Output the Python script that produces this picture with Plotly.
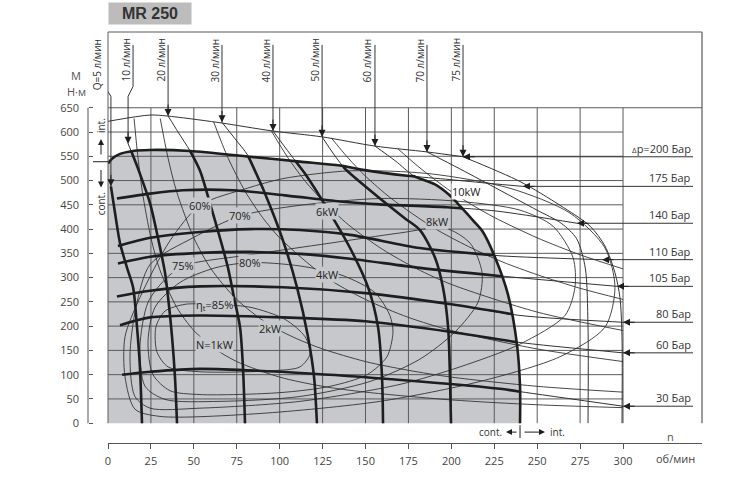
import plotly.graph_objects as go

# ---------------- axes ----------------
speed_ticks = [0, 25, 50, 75, 100, 125, 150, 175, 200, 225, 250, 275, 300]
torque_ticks = [0, 50, 100, 150, 200, 250, 300, 350, 400, 450, 500, 550, 600, 650]

# ---------------- pressure lines (n об/мин, M Н·м) ----------------
p200_n = [0, 24.5, 34.4, 63.5, 96.1, 124.7, 155.5, 185.8, 206.8]
p200_m = [622, 635, 633, 620, 602, 590, 571, 559, 549]
p175_n = [0, 2.3, 7.0, 14.6, 24.5, 47.8, 82.7, 111.8, 135.1, 148.5, 174.2, 199.2, 222.5, 241.7]
p175_m = [535, 545, 555, 561, 563, 561, 549, 539, 531, 522, 510, 502, 494, 488]
p140_n = [5.2, 24.5, 43.7, 72.8, 104.3, 135.1, 158.4, 197.5, 226.6, 273.2]
p140_m = [463, 473, 480, 480, 469, 457, 451, 445, 437, 412]
p110_n = [5.8, 24.5, 53.6, 82.7, 111.8, 141.0, 181.7, 228.3, 287.8]
p110_m = [365, 382, 394, 400, 398, 388, 361, 345, 337]
p105_n = [5.8, 24.5, 53.6, 82.7, 111.8, 141.0, 181.7, 226.6, 296.5]
p105_m = [329, 343, 351, 353, 349, 339, 320, 304, 282]
p80_n = [5.2, 24.5, 53.6, 101.9, 150.0, 200.0, 240.0, 300.0]
p80_m = [261, 273, 282, 280, 268, 245, 222, 208]
p60_n = [7.0, 24.5, 53.6, 101.9, 150.0, 200.0, 238.2, 300.0]
p60_m = [202, 218, 222, 218, 210, 188, 167, 145]
p30_n = [8.2, 24.5, 53.6, 119.4, 181.7, 228.3, 240.0, 300.0]
p30_m = [100, 106, 112, 102, 86, 71, 65, 35]
pressure_labels = ["<span style='font-size:8px'>Δ</span>p=200 Бар", "175 Бар", "140 Бар",
                   "110 Бар", "105 Бар", "80 Бар", "60 Бар", "30 Бар"]

# ---------------- flow lines ----------------
q5_n = [1.7, 4.1, 7.0, 11.1, 14.6, 16.9, 18.6, 19.8]
q5_m = [488, 433, 371, 320, 280, 198, 116, 0]
q10_n = [11.7, 14.6, 18.6, 24.5, 29.1, 33.2, 35.0, 37.3, 39.0, 40.2]
q10_m = [576, 551, 514, 453, 382, 310, 259, 178, 96, 0]
q20_n = [35.0, 40.8, 47.8, 53.6, 59.4, 65.2, 69.9, 73.4, 76.9, 78.6, 79.8]
q20_m = [633, 600, 561, 520, 453, 382, 320, 259, 198, 116, 0]
q30_n = [66.4, 74.0, 81.6, 91.5, 101.4, 110.1, 116.5, 120.0, 121.7]
q30_m = [620, 586, 551, 473, 382, 280, 178, 96, 0]
q40_n = [96.1, 106.0, 114.8, 129.3, 141.0, 151.5, 157.3, 159.6, 160.2]
q40_m = [602, 555, 514, 433, 361, 280, 198, 96, 0]
q50_n = [124.7, 138.1, 158.4, 173.0, 181.7, 190.5, 195.1, 198.1, 199.2, 199.8]
q50_m = [590, 524, 463, 422, 398, 341, 280, 198, 96, 0]
q60_n = [155.5, 167.2, 178.8, 190.5, 199.2, 206.2, 212.6, 218.4, 226.0, 233.0, 238.2, 240.0, 240.0]
q60_m = [571, 541, 508, 492, 469, 443, 418, 394, 337, 265, 163, 76, 0]
q70_n = [185.8, 205.0, 228.3, 249.9, 264.0, 273.0, 278.0, 279.6, 279.6]
q70_m = [559, 524, 480, 439, 412, 380, 320, 200, 0]
q75_n = [206.8, 240.0, 263.3, 280.8, 289.5, 295.3, 298.2, 299.4, 299.4]
q75_m = [549, 498, 449, 406, 365, 310, 259, 178, 0]
flow_labels = ["Q=5 л/мин", "10 л/мин", "20 л/мин", "30 л/мин", "40 л/мин",
               "50 л/мин", "60 л/мин", "70 л/мин", "75 л/мин"]
flow_label_n = [-1.8, 14.6, 35.0, 66.4, 96.1, 124.7, 155.5, 185.8, 206.8]

# ---------------- efficiency contours ----------------
e60_n = [53.6, 81.0, 101.9, 141.0, 187.6, 234.2, 269.1, 289.5, 295.3, 289.5, 263.3, 216.7, 158.4, 88.5, 30.3, 15.7, 9.9, 9.9, 18.6, 36.1, 53.6]
e60_m = [449, 484, 504, 520, 514, 484, 433, 361, 280, 198, 137, 86, 45, 20, 14, 29, 96, 178, 259, 376, 449]
e70_n = [76.9, 111.8, 158.4, 205.0, 240.0, 259.2, 270.9, 272.0, 266.2, 240.0, 205.0, 170.1, 111.8, 53.6, 24.5, 15.7, 12.8, 16.3, 24.5, 49.5, 76.9]
e70_m = [427, 449, 463, 457, 439, 406, 341, 280, 222, 163, 116, 80, 45, 31, 31, 55, 137, 239, 327, 382, 427]
e75_n = [43.7, 82.7, 129.3, 170.1, 196.3, 210.9, 217.9, 215.5, 202.1, 181.7, 152.6, 111.8, 65.2, 33.2, 21.6, 18.6, 23.3, 33.2, 43.7]
e75_m = [324, 347, 371, 392, 402, 371, 310, 249, 188, 132, 86, 55, 45, 49, 76, 157, 249, 296, 324]
e80_n = [82.7, 111.8, 136.9, 155.5, 164.2, 166.0, 162.5, 150.9, 129.3, 100.2, 53.6, 36.1, 26.2, 23.3, 27.4, 41.9, 62.3, 82.7]
e80_m = [331, 324, 304, 269, 222, 188, 137, 100, 76, 63, 59, 67, 100, 167, 239, 290, 320, 331]
e85_n = [59.4, 82.7, 103.1, 114.8, 117.7, 111.8, 94.4, 53.6, 35.0, 28.5, 27.9, 33.2, 44.9, 59.4]
e85_m = [245, 239, 214, 178, 143, 116, 108, 106, 116, 147, 198, 231, 245, 245]

# ---------------- power curves ----------------
w1_n = [15.2, 17, 20, 25, 30, 40, 50, 62, 75, 100, 125, 150, 200, 250, 300]
w1_m = [628, 562, 477, 382, 318, 239, 191, 154, 127, 95, 76, 64, 48, 38, 32]
w2_n = [30.4, 35, 40, 50, 60, 75, 93, 110, 125, 150, 175, 200, 250, 300]
w2_m = [628, 546, 477, 382, 318, 255, 205, 174, 153, 127, 109, 95, 76, 64]
w4_n = [61.5, 70, 80, 90, 100, 126, 150, 175, 200, 250, 300]
w4_m = [621, 546, 477, 424, 382, 303, 255, 218, 191, 153, 127]
w6_n = [95, 105, 115, 126, 140, 160, 180, 200, 250, 300]
w6_m = [603, 546, 498, 455, 409, 358, 318, 286, 229, 191]
w8_n = [130, 140, 150, 165, 190, 210, 230, 250, 275, 300]
w8_m = [588, 546, 509, 463, 402, 364, 332, 306, 278, 255]
w10_n = [169, 180, 190, 200, 212, 225, 250, 275, 300]
w10_m = [565, 531, 503, 477, 450, 424, 382, 347, 318]

# ---------------- layout geometry ----------------
W, H = 742, 480
ML, MR, MT, MB = 88, 40, 32, 33
PW = W - ML - MR
PH = H - MT - MB
XD0 = 20 / PW
X_MAX = 346.0
Y_MIN, Y_MAX = -40.8, 806.1
PX_X = 515 / 300.0
PX_Y = PH / (Y_MAX - Y_MIN)

GRAY = "#c6c8cb"
INK = "#1e1e1e"
THIN = "#333333"
GRID = "#5a5a5a"
FONT = "Open Sans, Liberation Sans, sans-serif"


def xpaper(px):
    return (px - ML) / PW


def ypaper(py):
    return (H - MB - py) / PH


def n_paper(n):
    return xpaper(108 + n * PX_X)


def ypx(py):
    return (427 - py) / PX_Y


def interp(xs, ys, x):
    for i in range(1, len(xs)):
        if xs[i] >= x:
            t = (x - xs[i - 1]) / (xs[i] - xs[i - 1]) if xs[i] != xs[i - 1] else 0
            return ys[i - 1] + t * (ys[i] - ys[i - 1])
    return ys[-1]


def in_poly(x, y, px, py):
    c = False
    j = len(px) - 1
    for i in range(len(px)):
        if ((py[i] > y) != (py[j] > y)) and (x < (px[j] - px[i]) * (y - py[i]) / (py[j] - py[i]) + px[i]):
            c = not c
        j = i
    return c


def clip(xs, ys, pred):
    ox, oy = [], []
    prev = None
    for i, (x, y) in enumerate(zip(xs, ys)):
        k = pred(x, y)
        if i > 0 and k != prev:
            x0, y0 = xs[i - 1], ys[i - 1]
            lo, hi = 0.0, 1.0
            for _ in range(40):
                mid = (lo + hi) / 2
                if pred(x0 + (x - x0) * mid, y0 + (y - y0) * mid) == prev:
                    lo = mid
                else:
                    hi = mid
            ox.append(x0 + (x - x0) * lo)
            oy.append(y0 + (y - y0) * lo)
            if not k:
                ox.append(None)
                oy.append(None)
        if k:
            ox.append(x)
            oy.append(y)
        prev = k
    return ox, oy


# continuous-duty region (gray)
q60_below = [(n, m) for n, m in zip(q60_n, q60_m) if m <= interp(p175_n, p175_m, n) + 0.5]
corner_n = q60_below[0][0]
top_part = [(n, m) for n, m in zip(p175_n, p175_m) if n < corner_n]
gray_pts = [(0, 0)] + top_part + q60_below + [(0, 0)]
gray_n = [p[0] for p in gray_pts]
gray_m = [p[1] for p in gray_pts]

fig = go.Figure()
fig.add_trace(go.Scatter(x=gray_n, y=gray_m, fill="toself", fillcolor=GRAY,
                         line=dict(width=0), mode="lines", hoverinfo="skip"))

# grid
gx, gy = [], []
for m in torque_ticks[1:-1]:
    gx += [0, 300, None]
    gy += [m, m, None]
gx += [0, X_MAX, None]
gy += [650, 650, None]
for n in speed_ticks[1:]:
    gx += [n, n, None]
    gy += [0, 650, None]
fig.add_trace(go.Scatter(x=gx, y=gy, mode="lines", line=dict(color=GRID, width=1), hoverinfo="skip"))


def thin(xs, ys, w=0.9):
    fig.add_trace(go.Scatter(x=xs, y=ys, mode="lines", line=dict(color=THIN, width=w, shape="spline", smoothing=0.8),
                             hoverinfo="skip"))


def thick(xs, ys):
    fig.add_trace(go.Scatter(x=xs, y=ys, mode="lines", line=dict(color=INK, width=2.6, shape="spline", smoothing=0.8),
                             hoverinfo="skip", connectgaps=False))


for en, em in [(e60_n, e60_m), (e70_n, e70_m), (e75_n, e75_m), (e80_n, e80_m), (e85_n, e85_m)]:
    thin(en, em)
for wn, wm in [(w1_n, w1_m), (w2_n, w2_m), (w4_n, w4_m), (w6_n, w6_m), (w8_n, w8_m), (w10_n, w10_m)]:
    thin(wn, wm)

in_gray = lambda x, y: in_poly(x, y, gray_n, gray_m)

pressure = [(p200_n, p200_m), (p175_n, p175_m), (p140_n, p140_m), (p110_n, p110_m),
            (p105_n, p105_m), (p80_n, p80_m), (p60_n, p60_m), (p30_n, p30_m)]
flows = [(q5_n, q5_m), (q10_n, q10_m), (q20_n, q20_m), (q30_n, q30_m), (q40_n, q40_m),
         (q50_n, q50_m), (q60_n, q60_m), (q70_n, q70_m), (q75_n, q75_m)]

for pn, pm in pressure:
    thin(pn, pm, 1.0)
for qn, qm in flows:
    thin(qn, qm, 1.0)

for i, (pn, pm) in enumerate(pressure):
    if i == 0:
        continue
    if i == 1:
        tx, ty = clip(pn, pm, lambda x, y: x <= corner_n)
    else:
        tx, ty = clip(pn, pm, in_gray)
    thick(tx, ty)
for i, (qn, qm) in enumerate(flows):
    if i == 6:
        tx, ty = clip(qn, qm, lambda x, y: y <= interp(p175_n, p175_m, x) + 0.5)
    else:
        tx, ty = clip(qn, qm, lambda x, y: y <= interp(p175_n, p175_m, x) and in_gray(x, y) or (x < 1 and y < 540))
    thick(tx, ty)

# leaders
LX_END = (693 - 108) / PX_X
lx, ly = [], []
annotations = []
for (pn, pm), lab in zip(pressure, pressure_labels):
    lx += [pn[-1], LX_END, None]
    ly += [pm[-1], pm[-1], None]
    annotations.append(dict(x=pn[-1], y=pm[-1], xref="x", yref="y", ax=13, ay=0, text="", showarrow=True,
                            arrowhead=2, arrowsize=1.4, arrowwidth=1, arrowcolor=INK, standoff=0))
    annotations.append(dict(x=LX_END, y=pm[-1], xref="x", yref="y", text=lab, showarrow=False,
                            xanchor="right", yanchor="bottom", yshift=-1,
                            font=dict(family=FONT, size=11, color="#333")))
M_BEND = (427 - 97) / PX_Y
M_BEND2 = (427 - 87) / PX_Y
M_TOP = (427 - 45) / PX_Y
for (qn, qm), lab, lnx in zip(flows, flow_labels, flow_label_n):
    lx += [qn[0], qn[0], lnx, lnx, None]
    ly += [qm[0], M_BEND, M_BEND2, M_TOP, None]
    annotations.append(dict(x=qn[0], y=qm[0], xref="x", yref="y", ax=0, ay=-13, text="", showarrow=True,
                            arrowhead=2, arrowsize=1.4, arrowwidth=1, arrowcolor=INK, standoff=0))
    annotations.append(dict(x=n_paper(lnx) - 7 / PW, y=ypaper(37), xref="paper", yref="paper", text=lab,
                            showarrow=False, textangle=-90, xanchor="center", yanchor="top",
                            font=dict(family=FONT, size=10, color="#333")))
fig.add_trace(go.Scatter(x=lx, y=ly, mode="lines", line=dict(color=THIN, width=1), hoverinfo="skip",
                         cliponaxis=False))

# in-plot labels
inner = [("60%", 53.6, 449, GRAY), ("70%", 76.9, 427, GRAY), ("75%", 43.7, 324, GRAY),
         ("80%", 82.7, 331, GRAY), ("η<sub>t</sub>=85%", 62.3, 243, GRAY), ("N=1kW", 62.3, 163, GRAY),
         ("2kW", 94.4, 196, GRAY), ("4kW", 127.6, 306, GRAY), ("6kW", 127.6, 437, GRAY),
         ("8kW", 191.6, 416, GRAY), ("10kW", 209.0, 478, "white")]
for t, x, y, bg in inner:
    annotations.append(dict(x=x, y=y, xref="x", yref="y", text=t, showarrow=False, bgcolor=bg, borderpad=0,
                            font=dict(family=FONT, size=11, color="#222")))


def ptext(px, py, text, size=10, color="#333", angle=0, xa="center", **kw):
    return dict(x=xpaper(px), y=ypaper(py), xref="paper", yref="paper", text=text, showarrow=False,
                textangle=angle, xanchor=xa, yanchor="middle", font=dict(family=FONT, size=size, color=color), **kw)


def parrow(px, py, axp, ayp):
    return dict(x=xpaper(px), y=ypaper(py), xref="paper", yref="paper", ax=axp, ay=ayp, text="",
                showarrow=True, arrowhead=2, arrowsize=1.2, arrowwidth=1, arrowcolor=INK, standoff=0,
                xanchor="center", yanchor="middle")


annotations += [
    ptext(101, 127, "int.", angle=-90),
    ptext(101, 206, "cont.", angle=-90),
    parrow(101, 140, 0, 17),
    parrow(101, 189, 0, -19),
    ptext(504, 436, "cont.", xa="right"),
    ptext(548, 436, "int.", xa="left"),
    parrow(506, 436, 12, 0),
    parrow(545, 436, -22, 0),
    ptext(76, 76, "M", size=11, color="#555"),
    ptext(76, 92, "Н·м", size=11, color="#555"),
    ptext(670, 440, "n", size=11, color="#555"),
    ptext(675, 463, "об/мин", size=11, color="#444"),
    dict(x=xpaper(108), y=ypaper(2), xref="paper", yref="paper", text="<b>MR 250</b>",
         xanchor="left", yanchor="top", width=82, height=21, bgcolor="#bcbcbc", borderpad=0,
         showarrow=False, align="center", valign="middle",
         font=dict(family="Liberation Sans, Arial, sans-serif", size=16, color="#333")),
]

shapes = [
    dict(type="line", xref="paper", yref="y", x0=XD0, x1=XD0, y0=0, y1=Y_MAX, line=dict(color=GRID, width=1)),
    dict(type="line", xref="paper", yref="paper", x0=XD0, x1=1, y0=1, y1=1, line=dict(color=GRID, width=1.2)),
    dict(type="line", xref="paper", yref="y", x0=1, x1=1, y0=0, y1=Y_MAX, line=dict(color=GRID, width=1.2)),
    dict(type="line", xref="paper", yref="y", x0=0, x1=0, y0=0, y1=650, line=dict(color="#555", width=1)),
    dict(type="line", xref="paper", yref="y", x0=xpaper(93), x1=XD0, y0=ypx(163), y1=ypx(163),
         line=dict(color=INK, width=1)),
    dict(type="line", xref="x", yref="y", x0=240, x1=240, y0=ypx(429), y1=ypx(442), line=dict(color=INK, width=1)),
]

fig.update_layout(
    width=W, height=H, autosize=False,
    margin=dict(l=ML, r=MR, t=MT, b=MB, pad=0),
    paper_bgcolor="white", plot_bgcolor="white",
    showlegend=False,
    xaxis=dict(domain=[XD0, 1], range=[0, X_MAX], tickvals=speed_ticks, showgrid=False, zeroline=False,
               showline=True, linecolor="#555", linewidth=1, ticks="outside", ticklen=5, tickcolor="#555",
               tickfont=dict(family=FONT, size=11, color="#444"), ticklabelstandoff=3),
    yaxis=dict(anchor="free", position=0, range=[Y_MIN, Y_MAX], tickvals=torque_ticks, showgrid=False,
               zeroline=False, showline=False, ticks="inside", ticklen=4, tickcolor="#555",
               tickfont=dict(family=FONT, size=11, color="#444"), ticklabelstandoff=9),
    annotations=annotations, shapes=shapes,
)

fig.write_html("out.html", config={"displayModeBar": False},
               post_script="document.body.style.margin='0px';")
